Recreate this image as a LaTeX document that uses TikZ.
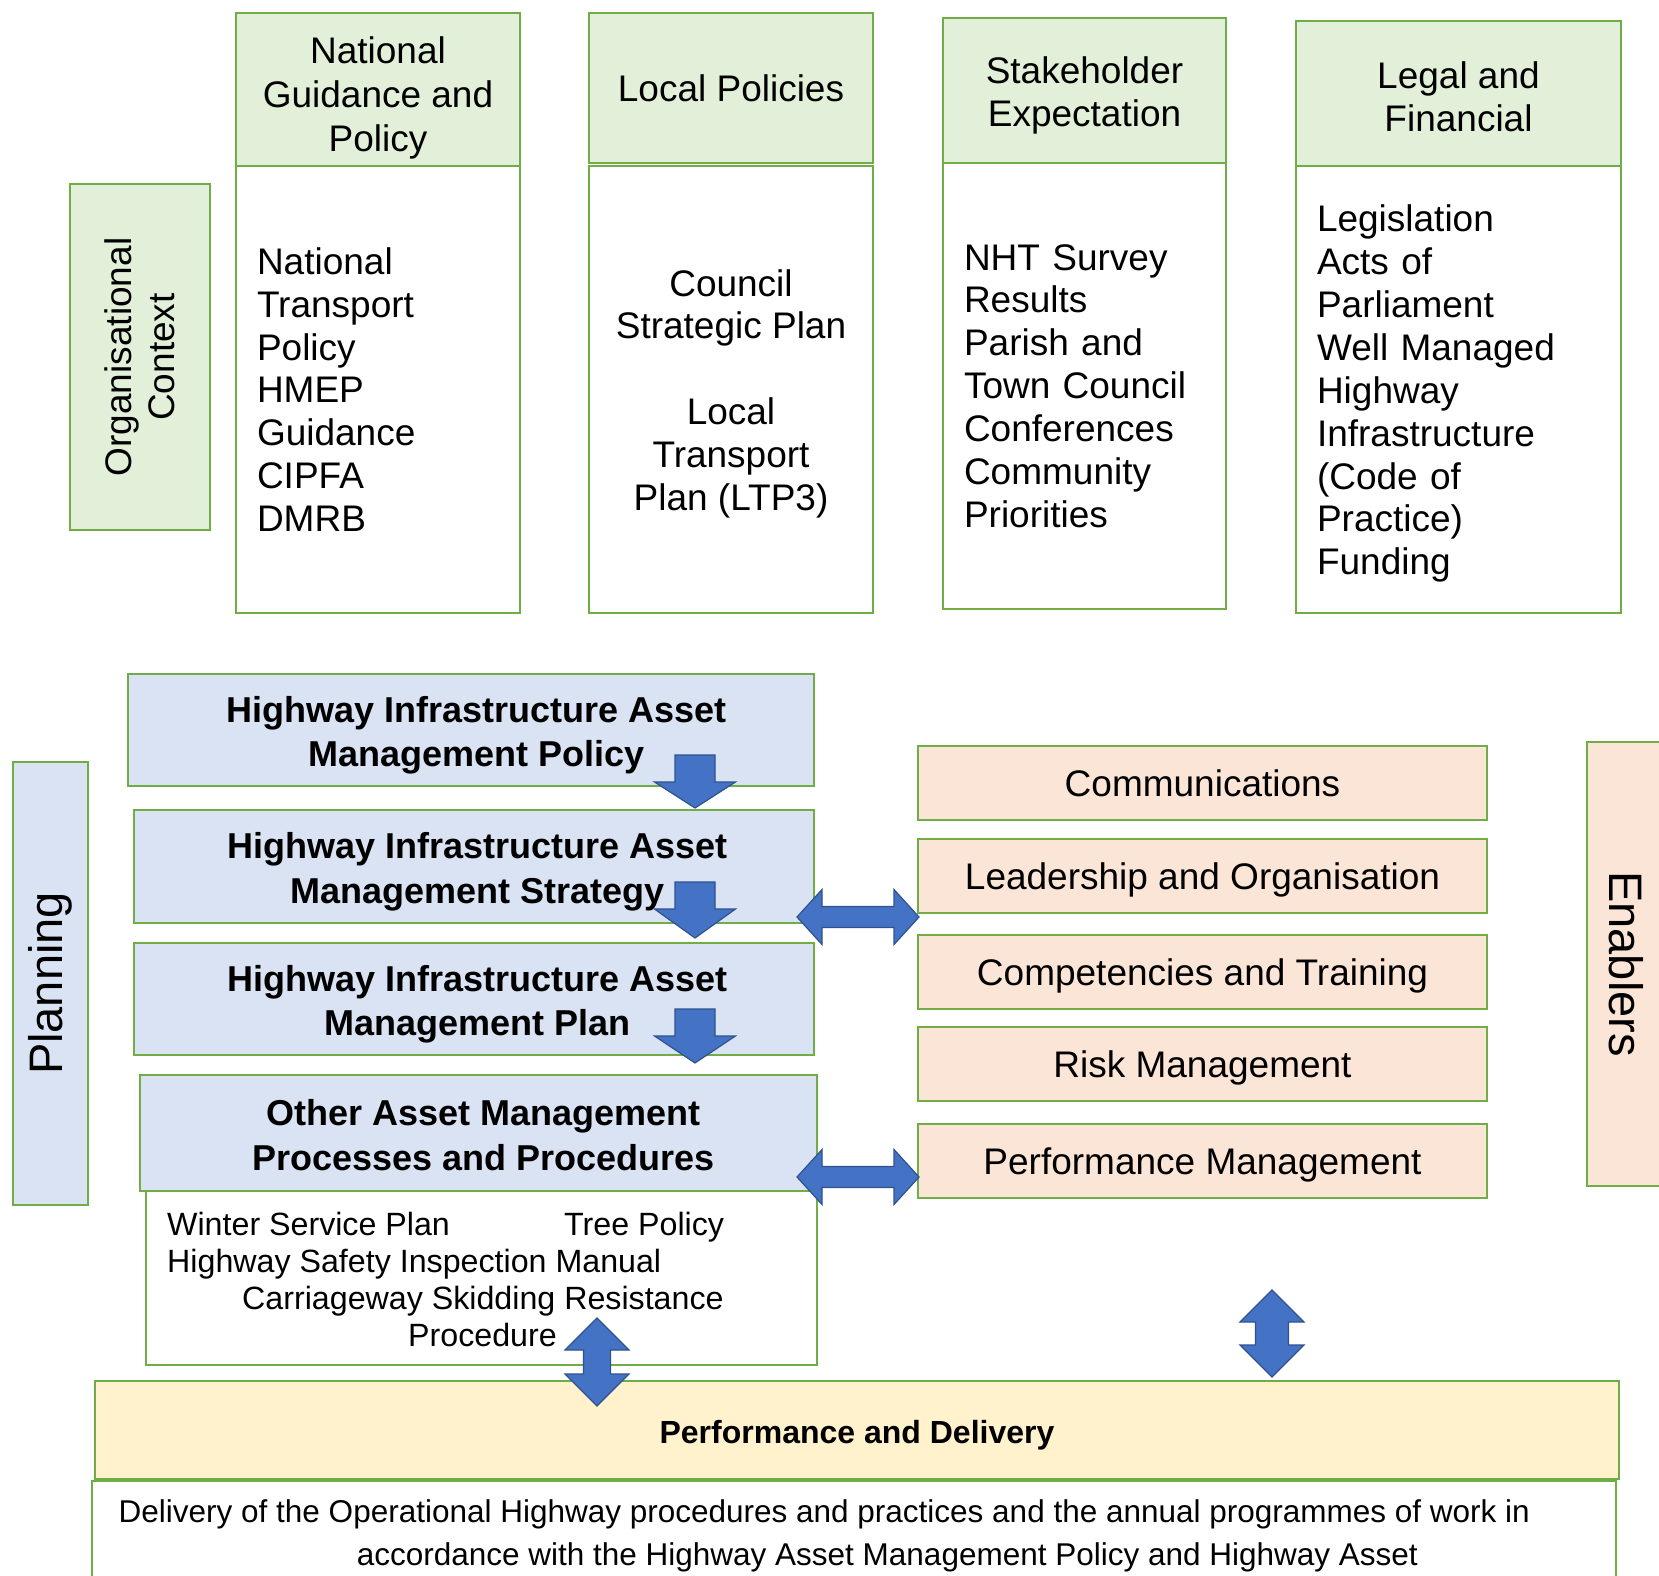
\documentclass[tikz,border=0pt]{standalone}
\usepackage{fontspec}
\setmainfont{Liberation Sans}
\definecolor{gline}{HTML}{70AD47}
\definecolor{gfill}{HTML}{E2F0D9}
\definecolor{bfill}{HTML}{DAE3F3}
\definecolor{ofill}{HTML}{FBE5D6}
\definecolor{yfill}{HTML}{FFF2CC}
\definecolor{afill}{HTML}{4472C4}
\definecolor{aline}{HTML}{2F528F}
\newcommand\dnarrowshape[4]{%
  \filldraw[blockarrow] ({#1-20},#2) -- ({#1+20},#2) -- ({#1+20},#3) -- ({#1+40.5},#3) -- (#1,#4) -- ({#1-40.5},#3) -- ({#1-20},#3) -- cycle;}
\newcommand\hdarrowshape[3]{%
  \filldraw[blockarrow] (#1,#3) -- ({#1+25},{#3-27.5}) -- ({#1+25},{#3-10.5}) -- ({#2-25},{#3-10.5}) -- ({#2-25},{#3-27.5}) -- (#2,#3) -- ({#2-25},{#3+27.5}) -- ({#2-25},{#3+10.5}) -- ({#1+25},{#3+10.5}) -- ({#1+25},{#3+27.5}) -- cycle;}
\newcommand\vdarrowshape[4]{%
  \filldraw[blockarrow] (#1,#2) -- ({#1+32},{#2+32}) -- ({#1+#4},{#2+32}) -- ({#1+#4},{#3-32}) -- ({#1+32},{#3-32}) -- (#1,#3) -- ({#1-32},{#3-32}) -- ({#1-#4},{#3-32}) -- ({#1-#4},{#2+32}) -- ({#1-32},{#2+32}) -- cycle;}
\begin{document}
\begin{tikzpicture}[x=1pt,y=-1pt,
  box/.style={draw=gline, line width=2.2pt, inner sep=0pt, outer sep=0pt},
  gbox/.style={box, fill=gfill},
  bbox/.style={box, fill=bfill},
  obox/.style={box, fill=ofill},
  ybox/.style={box, fill=yfill},
  wbox/.style={box, fill=white},
  reg/.style={font=\fontsize{37}{42.9}\selectfont},
  bld/.style={font=\bfseries\fontsize{36}{44.4}\selectfont},
  bigf/.style={font=\fontsize{47}{54}\selectfont},
  sml/.style={font=\fontsize{31.5}{37}\selectfont},
  smlo/.style={font=\fontsize{32.2}{37}\selectfont},
  smlb/.style={font=\bfseries\fontsize{32}{37}\selectfont},
  txt/.style={inner sep=0pt, align=center},
  blockarrow/.style={fill=afill, draw=aline, line width=1.2pt, line join=miter}]
\path[use as bounding box, clip] (0,0) rectangle (1659,1576);

% top row
\node[gbox, reg, align=center, rotate=90, minimum width=346pt, minimum height=140pt] (org) at (140,357) {Organisational\\Context};

\node[gbox, minimum width=284pt, minimum height=153pt] (nath) at (378,89.5) {};
\node[txt, font=\fontsize{37}{44}\selectfont] (natht) at ([yshift=-8pt]nath.center) {National\\Guidance and\\Policy};
\node[wbox, reg, align=left, text width=242pt, minimum width=284pt, minimum height=447pt] (natb) at (378,389.5) {National\\Transport\\Policy\\HMEP\\Guidance\\CIPFA\\DMRB};

\node[gbox, reg, align=center, minimum width=284pt, minimum height=150pt] (loch) at (731,88) {Local Policies};
\node[wbox, minimum width=284pt, minimum height=447pt] (locb) at (731,389.5) {};
\node[txt, reg] (locbt) at ([yshift=-4.2pt]locb.center) {Council\\Strategic Plan\\~\\Local\\Transport\\Plan (LTP3)};

\node[gbox, minimum width=283pt, minimum height=145pt] (stkh) at (1084.5,90.5) {};
\node[txt, reg] (stkht) at ([yshift=-5.3pt]stkh.center) {Stakeholder\\Expectation};
\node[wbox, reg, align=left, text width=241pt, minimum width=283pt, minimum height=446pt] (stkb) at (1084.5,386) {NHT Survey\\Results\\Parish and\\Town Council\\Conferences\\Community\\Priorities};

\node[gbox, minimum width=325pt, minimum height=145pt] (legh) at (1458.5,93.5) {};
\node[txt, reg] (leght) at ([yshift=-3.7pt]legh.center) {Legal and\\Financial};
\node[wbox, minimum width=325pt, minimum height=447pt] (legb) at (1458.5,389.5) {};
\node[txt, reg, align=left, text width=283pt] (legbt) at ([xshift=0pt,yshift=-4.2pt]legb.center) {Legislation\\Acts of\\Parliament\\Well Managed\\Highway\\Infrastructure\\(Code of\\Practice)\\Funding};

% planning column
\node[bbox, bigf, rotate=90, minimum width=443pt, minimum height=75pt] (plan) at (50.5,983.5) {Planning};
\node[bbox, minimum width=686pt, minimum height=112pt] (pol) at (471,730) {};
\node[txt, bld] (polt) at ([xshift=5.8pt,yshift=-5.3pt]pol.center) {Highway Infrastructure Asset\\Management Policy};
\node[bbox, minimum width=680pt, minimum height=113pt] (str) at (474,866.5) {};
\node[txt, bld] (strt) at ([xshift=3.7pt,yshift=-5.3pt]str.center) {Highway Infrastructure Asset\\Management Strategy};
\node[bbox, minimum width=680pt, minimum height=112pt] (pln) at (474,999) {};
\node[txt, bld] (plnt) at ([xshift=3.7pt,yshift=-5.3pt]pln.center) {Highway Infrastructure Asset\\Management Plan};
\node[bbox, minimum width=677pt, minimum height=116pt] (oth) at (478.5,1133) {};
\node[txt, bld] (otht) at ([xshift=4.7pt,yshift=-2pt]oth.center) {Other Asset Management\\Processes and Procedures};
\node[wbox, minimum width=671pt, minimum height=174pt] (othb) at (481.5,1278) {};
\node[smlo, anchor=base west, inner sep=0pt] (oth1) at (167,1235.5) {\makebox[397pt][l]{Winter Service Plan}Tree Policy};
\node[smlo, anchor=base west, inner sep=0pt] (oth2) at (167,1272.5) {Highway Safety Inspection Manual};
\node[smlo, anchor=base west, inner sep=0pt] (oth3) at (242,1309.5) {Carriageway Skidding Resistance};
\node[smlo, anchor=base west, inner sep=0pt] (oth4) at (408,1346.5) {Procedure};

% enablers column
\node[obox, reg, minimum width=569pt, minimum height=74pt] (com) at (1202.5,783) {Communications};
\node[obox, minimum width=569pt, minimum height=74pt] (lead) at (1202.5,876) {};
\node[txt, reg] (leadt) at ([yshift=-4.2pt]lead.center) {Leadership and Organisation};
\node[obox, minimum width=569pt, minimum height=74pt] (comp) at (1202.5,972) {};
\node[txt, reg] (compt) at ([yshift=-4.2pt]comp.center) {Competencies and Training};
\node[obox, minimum width=569pt, minimum height=74pt] (risk) at (1202.5,1064) {};
\node[txt, reg] (riskt) at ([yshift=-4.2pt]risk.center) {Risk Management};
\node[obox, minimum width=569pt, minimum height=74pt] (perf) at (1202.5,1161) {};
\node[txt, reg] (perft) at ([yshift=-4.2pt]perf.center) {Performance Management};
\node[obox, bigf, rotate=-90, minimum width=444pt, minimum height=78pt] (enab) at (1626,964) {Enablers};

% bottom
\node[ybox, minimum width=1524pt, minimum height=98pt] (pd) at (857,1430) {};
\node[txt, smlb] (pdt) at ([yshift=-5.3pt]pd.center) {Performance and Delivery};
\node[wbox, minimum width=1524pt, minimum height=119pt] (db) at (854,1540.5) {};
\node[sml, anchor=base west, inner sep=0pt] (db1) at (118.5,1522.5) {Delivery of the Operational Highway procedures and practices and the annual programmes of work in};
\node[sml, anchor=base west, inner sep=0pt] (db2) at (356.6,1565.5) {accordance with the Highway Asset Management Policy and Highway Asset};

% block arrows
\dnarrowshape{695}{755}{782}{808}
\dnarrowshape{695}{882}{909}{938}
\dnarrowshape{695}{1009}{1036}{1063}
\hdarrowshape{797}{919}{917}
\hdarrowshape{797}{919}{1177}
\vdarrowshape{597}{1318}{1406}{13.5}
\vdarrowshape{1272}{1290}{1377}{16.5}
\end{tikzpicture}
\end{document}
